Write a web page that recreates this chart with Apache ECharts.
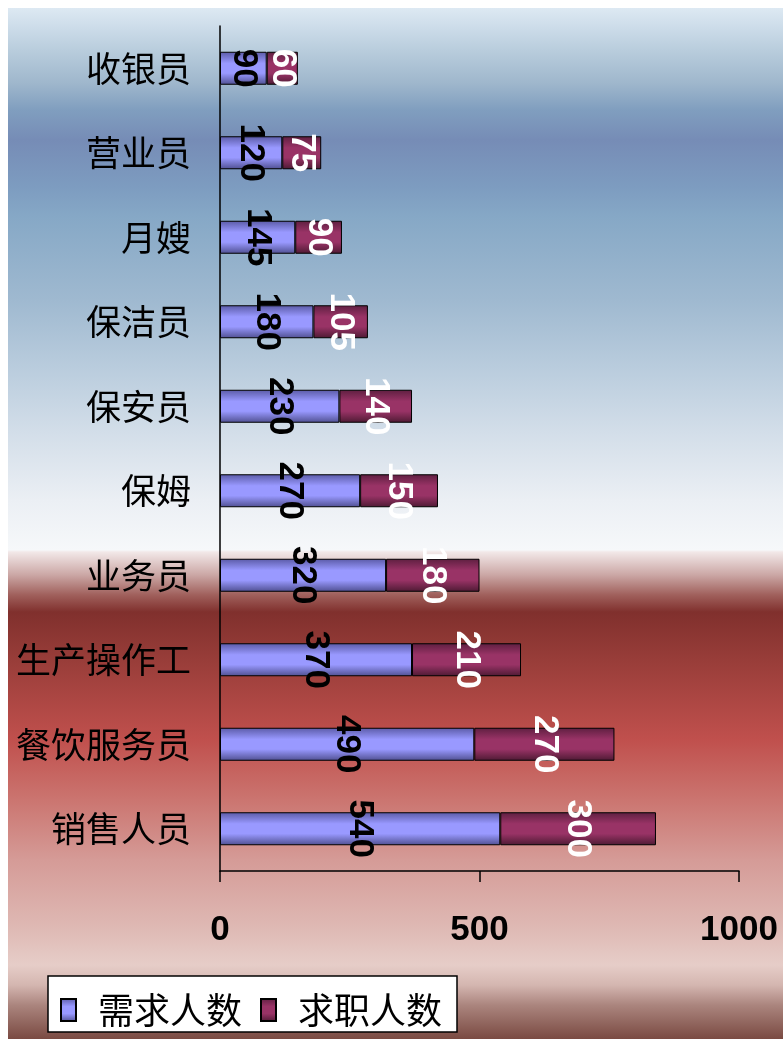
<!DOCTYPE html>
<html><head><meta charset="utf-8">
<script src="https://cdn.jsdelivr.net/npm/echarts@6/dist/echarts.min.js"></script>
<style>html,body{margin:0;padding:0;background:#fff;}#c{width:783px;height:1039px;}</style>
</head><body><div id="c"></div>
<script>
const categories = ['收银员','营业员','月嫂','保洁员','保安员','保姆','业务员','生产操作工','餐饮服务员','销售人员'];
const demand = [90,120,145,180,230,270,320,370,490,540];
const supply = [60,75,90,105,140,150,180,210,270,300];
const seriesNames = ['需求人数','求职人数'];
const xTicks = [0,500,1000];

function bg(){
  const H=1031, y0=8;
  const s=[[8,'#dde9f3'],[50,'#b9cddd'],[83,'#9fb7cc'],[110,'#809ebf'],[140,'#768cb6'],[187,'#7d9cc0'],[217,'#86a8c6'],[300,'#9fb9d0'],[367,'#b9ccdd'],[433,'#d3dee9'],[500,'#ebeff4'],[550,'#f6f8fa'],[552,'#f2e8e8'],[575,'#cba7a5'],[595,'#a0605c'],[612,'#80302d'],[660,'#983d39'],[740,'#c0504d'],[800,'#cb7570'],[860,'#d59b97'],[930,'#dfbab5'],[965,'#e6cdc8'],[985,'#d4b6b0'],[1005,'#ab857e'],[1039,'#7a4a42']];
  return s.map(a=>({offset:Math.min(1,Math.max(0,(a[0]-y0)/H)),color:a[1]}));
}
const grad=(c0,c1,c2)=>({type:'linear',x:0,y:0,x2:0,y2:1,colorStops:[{offset:0,color:c0},{offset:0.35,color:c1},{offset:0.65,color:c1},{offset:1,color:c2}]});

const chart = echarts.init(document.getElementById('c'));
const lblFont = {fontFamily:'"Liberation Sans", Arial, sans-serif', fontWeight:'bold', fontSize:35};
chart.setOption({
  animation:false,
  graphic:[{type:'rect',z:-10,silent:true,shape:{x:8,y:8,width:775,height:1031},style:{fill:{type:'linear',x:0,y:0,x2:0,y2:1,colorStops:bg()}}}],
  grid:{left:220,right:44,top:26,bottom:168},
  legend:{
    left:48, top:976, orient:'horizontal', icon:'rect',
    backgroundColor:'#fff', borderColor:'#000', borderWidth:1.5,
    padding:[16,15,4,12], itemGap:18, itemWidth:15, itemHeight:22,
    textStyle:{fontFamily:'"Noto Sans CJK SC", sans-serif', fontSize:36, lineHeight:36, color:'#000', padding:[0,0,0,17]},
    data:seriesNames
  },
  xAxis:{type:'value',min:xTicks[0],max:xTicks[xTicks.length-1],interval:500,
    axisLine:{show:true,lineStyle:{color:'#000',width:1.5}},
    axisTick:{show:true,length:11,lineStyle:{color:'#000',width:1.5}},
    splitLine:{show:false},
    axisLabel:{margin:42,color:'#000',lineHeight:35,formatter:v=>String(v),...lblFont}
  },
  yAxis:{type:'category',data:categories,inverse:true,
    axisLine:{show:true,lineStyle:{color:'#000',width:1.5}},
    axisTick:{show:false},
    axisLabel:{margin:29,color:'#000',fontFamily:'"Noto Sans CJK SC", sans-serif',fontSize:35}
  },
  series:[
    {name:seriesNames[0],type:'bar',stack:'a',data:demand,barWidth:33,
     itemStyle:{color:grad('#5a5aa6','#9999ff','#4f4f90'),borderColor:'#000',borderWidth:1},
     label:{show:true,position:'inside',rotate:-90,color:'#000',...lblFont}},
    {name:seriesNames[1],type:'bar',stack:'a',data:supply,barWidth:33,
     itemStyle:{color:grad('#5e1f40','#993366','#4d1a33'),borderColor:'#000',borderWidth:1},
     label:{show:true,position:'inside',rotate:-90,color:'#fff',...lblFont}}
  ]
});
</script></body></html>
